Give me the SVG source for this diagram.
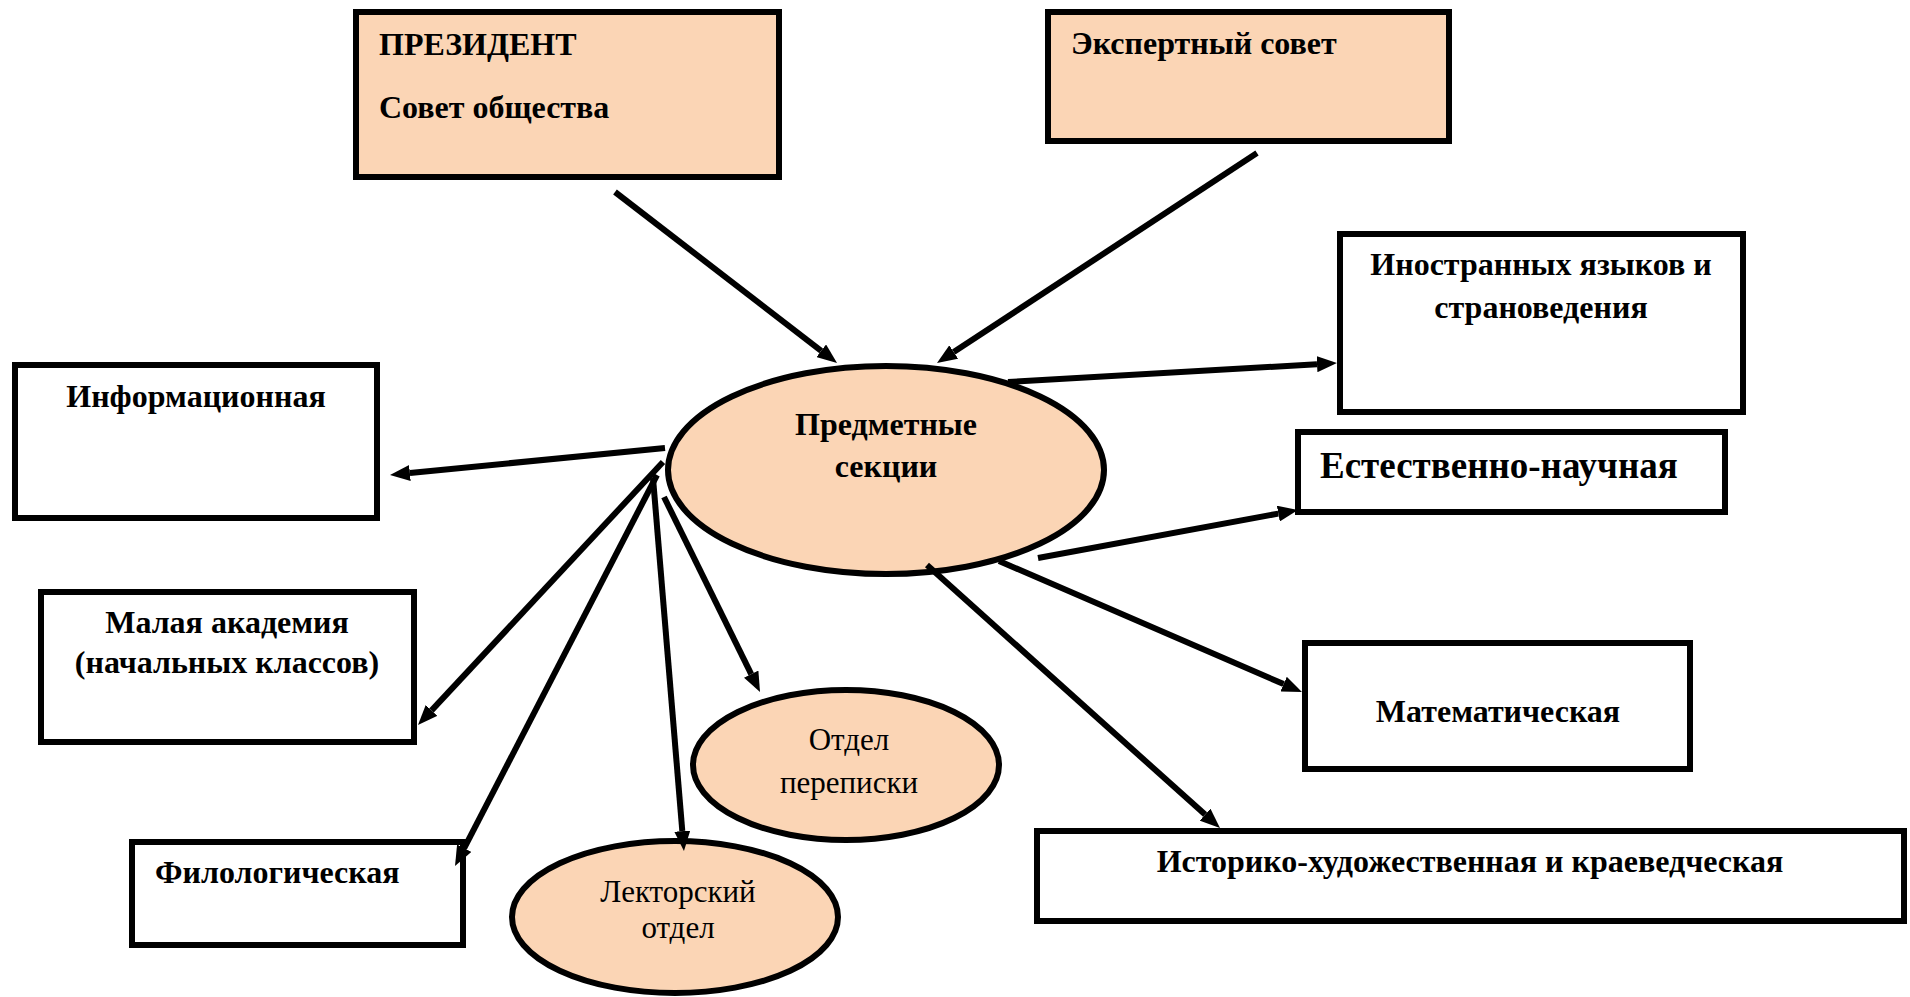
<svg xmlns="http://www.w3.org/2000/svg" width="1910" height="997" viewBox="0 0 1910 997">
<style>
.box{fill:#fff;stroke:#000;stroke-width:6}
.peach{fill:#FBD5B5;stroke:#000;stroke-width:6}
.b{font-family:"Liberation Serif","Times New Roman",serif;font-weight:bold;font-size:32px;fill:#000}
.r{font-family:"Liberation Serif","Times New Roman",serif;font-size:31px;fill:#000}
.c{text-anchor:middle}
.ln{stroke:#000;stroke-width:6;fill:none;marker-end:url(#ah)}
</style>
<defs>
<marker id="ah" viewBox="0 0 20 16" refX="0" refY="8" markerWidth="20" markerHeight="16" markerUnits="userSpaceOnUse" orient="auto">
<path d="M0,0 L20,8 L0,16 z" fill="#000"/>
</marker>
</defs>
<rect width="1910" height="997" fill="#fff"/>
<g id="president">
<rect class="peach" x="356" y="12" width="423" height="165"/>
<text class="b" x="379" y="55">ПРЕЗИДЕНТ</text>
<text class="b" x="379" y="118">Совет общества</text>
</g>
<g id="expert">
<rect class="peach" x="1048" y="12" width="401" height="129"/>
<text class="b" x="1071" y="54">Экспертный совет</text>
</g>
<g id="sections">
<ellipse class="peach" cx="886" cy="470" rx="218" ry="104"/>
<text class="b c" x="886" y="435">Предметные</text>
<text class="b c" x="886" y="477">секции</text>
</g>
<g id="info">
<rect class="box" x="15" y="365" width="362" height="153"/>
<text class="b c" x="196" y="407">Информационная</text>
</g>
<g id="foreign">
<rect class="box" x="1340" y="234" width="403" height="178"/>
<text class="b c" x="1541" y="275">Иностранных языков и</text>
<text class="b c" x="1541" y="318">страноведения</text>
</g>
<g id="natural">
<rect class="box" x="1298" y="432" width="427" height="80"/>
<text class="b" x="1320" y="478" style="font-size:37px">Естественно-научная</text>
</g>
<g id="math">
<rect class="box" x="1305" y="643" width="385" height="126"/>
<text class="b c" x="1498" y="722">Математическая</text>
</g>
<g id="history">
<rect class="box" x="1037" y="831" width="867" height="90"/>
<text class="b c" x="1470" y="872">Историко-художественная и краеведческая</text>
</g>
<g id="academy">
<rect class="box" x="41" y="592" width="373" height="150"/>
<text class="b c" x="227" y="633">Малая академия</text>
<text class="b c" x="227" y="673">(начальных классов)</text>
</g>
<g id="philology">
<rect class="box" x="132" y="842" width="331" height="103"/>
<text class="b" x="155" y="883">Филологическая</text>
</g>
<g id="correspondence">
<ellipse class="peach" cx="846" cy="765" rx="153" ry="75"/>
<text class="r c" x="849" y="750">Отдел</text>
<text class="r c" x="849" y="793">переписки</text>
</g>
<g id="lecture">
<ellipse class="peach" cx="675" cy="917" rx="163" ry="76"/>
<text class="r c" x="678" y="902">Лекторский</text>
<text class="r c" x="678" y="938">отдел</text>
</g>
<g id="connectors">
<line class="ln" x1="615" y1="192" x2="821.2" y2="350.8"/>
<line class="ln" x1="1257" y1="153" x2="953.7" y2="352"/>
<line class="ln" x1="1008" y1="382" x2="1317" y2="364.2"/>
<line class="ln" x1="1038" y1="558" x2="1278.3" y2="513.6"/>
<line class="ln" x1="999" y1="561" x2="1283.6" y2="684.1"/>
<line class="ln" x1="927" y1="565" x2="1205.1" y2="814.6"/>
<line class="ln" x1="665" y1="448" x2="409.9" y2="473"/>
<line class="ln" x1="663" y1="462" x2="431.6" y2="710.4"/>
<line class="ln" x1="657" y1="475" x2="464.2" y2="848.2"/>
<line class="ln" x1="653" y1="478" x2="682.3" y2="831.1"/>
<line class="ln" x1="664" y1="497" x2="751.2" y2="674.1"/>
</g>
</svg>
